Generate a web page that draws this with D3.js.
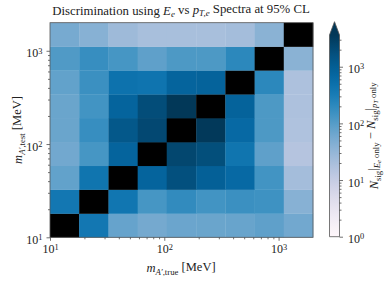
<!DOCTYPE html>
<html>
<head>
<meta charset="utf-8">
<script src="https://cdn.jsdelivr.net/npm/d3@7/dist/d3.min.js"></script>
<style>
body { margin: 0; background: #fff; }
svg text { font-family: "Liberation Serif", "DejaVu Serif", serif; fill: #222; }
</style>
</head>
<body>
<div id="chart"></div>
<script>
// bin edges of the mass grid (MeV), same for true and test axes
var binEdges = [10, 18, 32.5, 58.5, 105, 190, 342, 617, 1110, 2000];

// N_sig difference, rows = m_test bins (bottom to top), cols = m_true bins (left to right)
// null = diagonal (drawn black)
var row1 = [null, 380, 75, 57, 68, 70, 72, 85, 60];
var row2 = [380, null, 400, 130, 190, 140, 160, 150, 40];
var row3 = [80, 420, null, 800, 1700, 950, 650, 140, 22];
var row4 = [60, 130, 800, null, 2300, 1800, 420, 85, 15];
var row5 = [70, 170, 1300, 2200, null, 3500, 650, 115, 17];
var row6 = [70, 140, 800, 1900, 3700, null, 850, 115, 18];
var row7 = [80, 160, 470, 430, 800, 850, null, 210, 18];
var row8 = [110, 170, 130, 85, 115, 115, 210, null, 38];
var row9 = [55, 40, 25, 20, 20, 20, 22, 38, null];
var rows = [row1, row2, row3, row4, row5, row6, row7, row8, row9];

var axisTickValues = [10, 100, 1000];
var colorTickValues = [1, 10, 100, 1000];

var margin = {top: 22.7, left: 50},
    width = 263,
    height = 214.6;

var svg = d3.select("#chart").append("svg")
    .attr("width", 390)
    .attr("height", 282);

var g = svg.append("g")
    .attr("transform", "translate(" + margin.left + "," + margin.top + ")");

var x = d3.scaleLog().domain([10, 2000]).range([0, width]);
var y = d3.scaleLog().domain([10, 2000]).range([height, 0]);
var color = d3.scaleSequentialLog(d3.interpolatePuBu).domain([1, 3630]).clamp(true);

// cells
var cells = [];
rows.forEach(function(r, i) {
  r.forEach(function(v, j) { cells.push({i: i, j: j, v: v}); });
});

g.selectAll(".cell")
    .data(cells)
  .enter().append("rect")
    .attr("class", "cell")
    .attr("x", function(d) { return x(binEdges[d.j]); })
    .attr("y", function(d) { return y(binEdges[d.i + 1]); })
    .attr("width", function(d) { return x(binEdges[d.j + 1]) - x(binEdges[d.j]) + 0.3; })
    .attr("height", function(d) { return y(binEdges[d.i]) - y(binEdges[d.i + 1]) + 0.3; })
    .attr("fill", function(d) { return d.v == null ? "#000" : color(d.v); });

// minor ticks 2..9 per decade
function minors(lo, hi) {
  var out = [];
  for (var dec = 1; dec < 10000; dec *= 10)
    for (var k = 2; k < 10; k++) {
      var t = k * dec;
      if (t > lo && t < hi) out.push(t);
    }
  return out;
}

function supLabels(sel) {
  sel.selectAll("text").each(function(d) {
    var t = d3.select(this);
    t.text("");
    t.append("tspan").text("10");
    t.append("tspan").attr("dy", "-0.45em").attr("font-size", "0.7em").text(Math.round(Math.log10(d)));
  });
}

function styleAxis(sel) {
  sel.select(".domain").remove();
  sel.selectAll("line").attr("stroke", "#333").attr("stroke-width", 0.7);
  sel.selectAll("text").attr("font-size", 12).attr("fill", "#222");
}

// x axis
var xMinor = g.append("g").attr("transform", "translate(0," + height + ")")
    .call(d3.axisBottom(x).tickValues(minors(10, 2000)).tickSize(2).tickFormat(""));
styleAxis(xMinor);
var xMajor = g.append("g").attr("transform", "translate(0," + height + ")")
    .call(d3.axisBottom(x).tickValues(axisTickValues).tickSize(3.5).tickPadding(4));
styleAxis(xMajor);
supLabels(xMajor);

// y axis
var yMinor = g.append("g")
    .call(d3.axisLeft(y).tickValues(minors(10, 2000)).tickSize(2).tickFormat(""));
styleAxis(yMinor);
var yMajor = g.append("g")
    .call(d3.axisLeft(y).tickValues(axisTickValues).tickSize(3.5).tickPadding(4));
styleAxis(yMajor);
supLabels(yMajor);
yMajor.selectAll("text").attr("dy", "0.5em");

// frame
g.append("rect")
    .attr("width", width).attr("height", height)
    .attr("fill", "none").attr("stroke", "#555").attr("stroke-width", 0.8);

// title
var title = svg.append("text")
    .attr("x", 181).attr("y", 15)
    .attr("text-anchor", "middle")
    .attr("font-size", 12.8);
title.append("tspan").text("Discrimination using ");
title.append("tspan").attr("font-style", "italic").text("E");
title.append("tspan").attr("font-style", "italic").attr("font-size", "0.7em").attr("dy", "0.25em").text("e");
title.append("tspan").attr("dy", "-0.25em").text(" vs ");
title.append("tspan").attr("font-style", "italic").text("p");
title.append("tspan").attr("font-style", "italic").attr("font-size", "0.7em").attr("dy", "0.25em").text("T,e");
title.append("tspan").attr("dy", "-0.25em").text(" Spectra at 95% CL");

// axis labels
var xl = svg.append("text")
    .attr("x", 181).attr("y", 272)
    .attr("text-anchor", "middle")
    .attr("font-size", 12.5);
xl.append("tspan").attr("font-style", "italic").text("m");
xl.append("tspan").attr("font-size", "0.7em").attr("dy", "0.3em").attr("font-style", "italic").text("A′");
xl.append("tspan").attr("font-size", "0.7em").text(",true");
xl.append("tspan").attr("dy", "-0.3em").text(" [MeV]");

var yl = svg.append("text")
    .attr("transform", "translate(22," + (margin.top + height / 2) + ") rotate(-90)")
    .attr("text-anchor", "middle")
    .attr("font-size", 12.5);
yl.append("tspan").attr("font-style", "italic").text("m");
yl.append("tspan").attr("font-size", "0.7em").attr("dy", "0.3em").attr("font-style", "italic").text("A′");
yl.append("tspan").attr("font-size", "0.7em").text(",test");
yl.append("tspan").attr("dy", "-0.3em").text(" [MeV]");

// colorbar
var cbX = 329.5, cbW = 10, cbTop = 35, cbBot = 236.7;
var cy = d3.scaleLog().domain([1, 3630]).range([cbBot, cbTop]);
var defs = svg.append("defs");
var grad = defs.append("linearGradient").attr("id", "cbgrad")
    .attr("x1", 0).attr("y1", 1).attr("x2", 0).attr("y2", 0);
d3.range(0, 1.001, 0.05).forEach(function(t) {
  grad.append("stop").attr("offset", t).attr("stop-color", d3.interpolatePuBu(t));
});
svg.append("rect")
    .attr("x", cbX).attr("y", cbTop).attr("width", cbW).attr("height", cbBot - cbTop)
    .attr("fill", "url(#cbgrad)");
// extend-max triangle
svg.append("path")
    .attr("d", "M" + cbX + "," + cbTop + "L" + (cbX + cbW / 2) + ",21.7L" + (cbX + cbW) + "," + cbTop + "Z")
    .attr("fill", d3.interpolatePuBu(1));
svg.append("path")
    .attr("d", "M" + cbX + "," + cbTop + "L" + (cbX + cbW / 2) + ",21.7L" + (cbX + cbW) + "," + cbTop +
               "L" + (cbX + cbW) + "," + cbBot + "L" + cbX + "," + cbBot + "Z")
    .attr("fill", "none").attr("stroke", "#555").attr("stroke-width", 0.8);

var cbMinor = svg.append("g").attr("transform", "translate(" + (cbX + cbW) + ",0)")
    .call(d3.axisRight(cy).tickValues(minors(1, 3630)).tickSize(2).tickFormat(""));
styleAxis(cbMinor);
var cbMajor = svg.append("g").attr("transform", "translate(" + (cbX + cbW) + ",0)")
    .call(d3.axisRight(cy).tickValues(colorTickValues).tickSize(3.5).tickPadding(5));
styleAxis(cbMajor);
supLabels(cbMajor);
cbMajor.selectAll("text").attr("dy", "0.5em");

var cl = svg.append("text")
    .attr("transform", "translate(378," + ((cbTop + cbBot) / 2) + ") rotate(-90)")
    .attr("text-anchor", "middle")
    .attr("font-size", 12.5);
cl.append("tspan").attr("font-style", "italic").text("N");
cl.append("tspan").attr("font-size", "0.7em").attr("dy", "0.3em").text("sig");
cl.append("tspan").attr("dy", "-0.3em").text("|");
cl.append("tspan").attr("font-size", "0.7em").attr("dy", "0.3em").attr("font-style", "italic").text("E");
cl.append("tspan").attr("font-size", "0.5em").attr("dy", "0.2em").attr("font-style", "italic").text("e");
cl.append("tspan").attr("font-size", "0.7em").attr("dy", "-0.2em").text(" only");
cl.append("tspan").attr("dy", "-0.3em").text(" − ");
cl.append("tspan").attr("font-style", "italic").text("N");
cl.append("tspan").attr("font-size", "0.7em").attr("dy", "0.3em").text("sig");
cl.append("tspan").attr("dy", "-0.3em").text("|");
cl.append("tspan").attr("font-size", "0.7em").attr("dy", "0.3em").attr("font-style", "italic").text("p");
cl.append("tspan").attr("font-size", "0.5em").attr("dy", "0.2em").attr("font-style", "italic").text("T");
cl.append("tspan").attr("font-size", "0.7em").attr("dy", "-0.2em").text(" only");
</script>
</body>
</html>
